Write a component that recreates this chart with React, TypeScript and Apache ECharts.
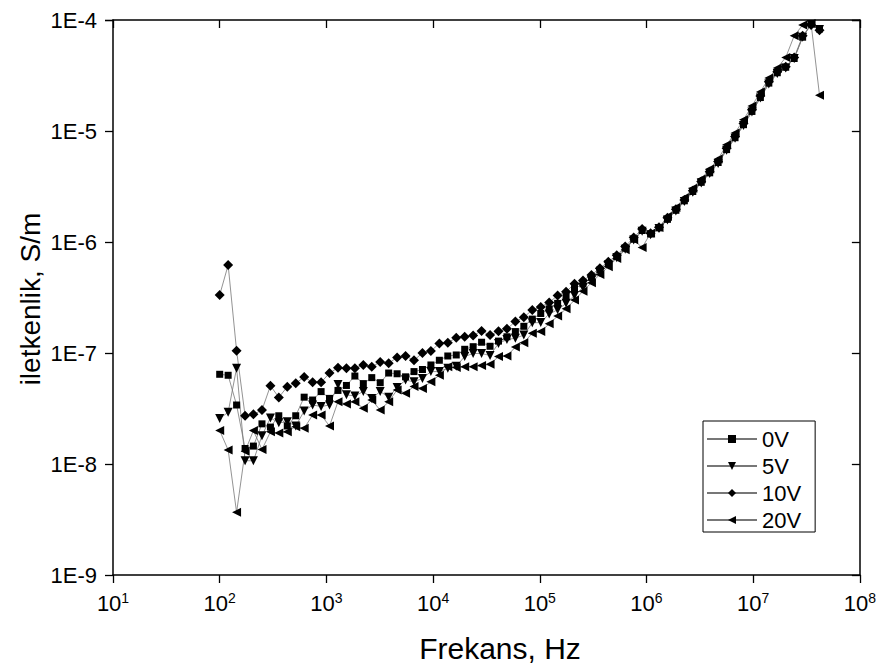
import React, { useEffect, useRef } from "react";
import * as echarts from "echarts";

// Frequencies (Hz)
const FREQ = [
  100, 120, 144, 173, 207, 249, 299, 358, 430, 516, 619, 743, 892, 1070, 1284, 1541, 1849, 2219,
  2662, 3195, 3834, 4601, 5521, 6625, 7950, 9540, 11448, 13737, 16485, 19781, 23738, 28485, 34182,
  41018, 49222, 59067, 70880, 85056, 102067, 122480, 146977, 176372, 211646, 253975, 304770, 365724,
  438869, 526643, 631971, 758366, 910039, 1092047, 1310456, 1572547, 1887057, 2264468, 2717362,
  3260834, 3913001, 4695601, 5634721, 6761665, 8113998, 9736798, 11684157, 14020989, 16825186,
  20190224, 24228268, 29073922, 34888707, 41866448,
];

// Conductivity (S/m)
const V0 = [
  6.43e-8, 6.3e-8, 3.4e-8, 1.38e-8, 1.45e-8, 2.3e-8, 2.15e-8, 2.72e-8, 2.2e-8, 2.72e-8, 4.0e-8, 3.77e-8,
  4.49e-8, 3.9e-8, 4.6e-8, 5.1e-8, 6.2e-8, 5.3e-8, 6.0e-8, 5.4e-8, 6.6e-8, 6.5e-8, 6.1e-8, 6.8e-8,
  7.1e-8, 7.8e-8, 8.6e-8, 9.4e-8, 9.6e-8, 1.08e-7, 1.14e-7, 1.25e-7, 1.15e-7, 1.28e-7, 1.4e-7, 1.56e-7,
  1.74e-7, 2.02e-7, 2.27e-7, 2.5e-7, 2.8e-7, 3.2e-7, 3.8e-7, 4.2e-7, 4.8e-7, 5.6e-7, 6.4e-7, 7.4e-7,
  8.8e-7, 1.06e-6, 1.27e-6, 1.18e-6, 1.34e-6, 1.6e-6, 1.93e-6, 2.35e-6, 2.85e-6, 3.45e-6, 4.2e-6,
  5.2e-6, 6.8e-6, 8.7e-6, 1.14e-5, 1.5e-5, 2.0e-5, 2.7e-5, 3.35e-5, 3.75e-5, 4.5e-5, 7.0e-5, 9.2e-5,
  8.3e-5,
];
const V5 = [
  2.57e-8, 2.92e-8, 7.3e-8, 1.07e-8, 1.07e-8, 1.8e-8, 2.6e-8, 2.35e-8, 2.4e-8, 2.2e-8, 3.0e-8, 3.4e-8,
  3.3e-8, 3.4e-8, 5.2e-8, 4.2e-8, 4.1e-8, 4.5e-8, 3.9e-8, 4.5e-8, 4.0e-8, 4.9e-8, 5.7e-8, 5.5e-8,
  5.9e-8, 6.8e-8, 6.8e-8, 7.3e-8, 7.6e-8, 9.3e-8, 9.9e-8, 9.9e-8, 9.5e-8, 1.22e-7, 1.32e-7, 1.36e-7,
  1.45e-7, 1.87e-7, 1.88e-7, 2.25e-7, 2.45e-7, 2.8e-7, 3.3e-7, 3.9e-7, 4.5e-7, 5.3e-7, 6.2e-7, 7.2e-7,
  8.6e-7, 1.04e-6, 1.25e-6, 1.16e-6, 1.32e-6, 1.58e-6, 1.9e-6, 2.32e-6, 2.8e-6, 3.4e-6, 4.15e-6,
  5.1e-6, 6.7e-6, 8.6e-6, 1.12e-5, 1.48e-5, 1.98e-5, 2.65e-5, 3.3e-5, 3.7e-5, 4.5e-5, 7.0e-5, 9.1e-5,
  8.2e-5,
];
const V10 = [
  3.33e-7, 6.2e-7, 1.05e-7, 2.72e-8, 2.8e-8, 3.06e-8, 5.07e-8, 3.98e-8, 4.97e-8, 5.33e-8, 6.08e-8,
  5.44e-8, 5.44e-8, 6.6e-8, 7.35e-8, 7.3e-8, 7.3e-8, 7.8e-8, 7.5e-8, 8.3e-8, 8.1e-8, 9.1e-8, 9.4e-8,
  8.6e-8, 1.0e-7, 1.04e-7, 1.22e-7, 1.24e-7, 1.37e-7, 1.4e-7, 1.44e-7, 1.58e-7, 1.45e-7, 1.57e-7,
  1.65e-7, 1.92e-7, 2.1e-7, 2.44e-7, 2.6e-7, 2.85e-7, 3.3e-7, 3.56e-7, 4.2e-7, 4.5e-7, 5.05e-7,
  5.8e-7, 6.65e-7, 7.6e-7, 9.1e-7, 1.1e-6, 1.31e-6, 1.2e-6, 1.36e-6, 1.65e-6, 1.97e-6, 2.39e-6,
  2.9e-6, 3.5e-6, 4.3e-6, 5.3e-6, 6.98e-6, 8.9e-6, 1.17e-5, 1.55e-5, 2.07e-5, 2.78e-5, 3.42e-5,
  3.8e-5, 4.6e-5, 7.2e-5, 9.0e-5, 8.1e-5,
];
const V20 = [
  2.0e-8, 1.34e-8, 3.67e-9, 1.3e-8, 2.0e-8, 1.35e-8, 1.95e-8, 1.9e-8, 1.95e-8, 2.17e-8, 2.1e-8,
  2.76e-8, 2.76e-8, 2.2e-8, 3.64e-8, 3.47e-8, 3.64e-8, 3.18e-8, 3.77e-8, 3.06e-8, 3.64e-8, 4.65e-8,
  4.35e-8, 5.0e-8, 4.8e-8, 5.5e-8, 6.3e-8, 7.5e-8, 7.4e-8, 7.5e-8, 7.5e-8, 7.7e-8, 7.9e-8, 9.3e-8,
  9.4e-8, 1.13e-7, 1.24e-7, 1.51e-7, 1.56e-7, 1.83e-7, 2.15e-7, 2.5e-7, 3.0e-7, 3.6e-7, 4.3e-7,
  5.1e-7, 6.0e-7, 7.1e-7, 8.5e-7, 1.05e-6, 8.9e-7, 1.2e-6, 1.35e-6, 1.7e-6, 2.05e-6, 2.5e-6,
  3.05e-6, 3.7e-6, 4.55e-6, 5.6e-6, 7.5e-6, 9.6e-6, 1.26e-5, 1.68e-5, 2.25e-5, 3.0e-5, 3.7e-5,
  4.6e-5, 7.2e-5, 9.0e-5, 9.3e-5, 2.1e-5,
];

const SERIES_NAMES = ["0V", "5V", "10V", "20V"];
const X_MAJOR = [1e1, 1e2, 1e3, 1e4, 1e5, 1e6, 1e7, 1e8];
const Y_MAJOR = [1e-9, 1e-8, 1e-7, 1e-6, 1e-5, 1e-4];

const X_TITLE = "Frekans, Hz";
const Y_TITLE = "iletkenlik, S/m";

const FONT = "'Liberation Sans', Arial, sans-serif";

const X_MIN = 10;
const X_MAX = 1e8;
const Y_MIN = 1e-9;
const Y_MAX = 1e-4;

export default function App() {
  const ref = useRef<HTMLDivElement>(null);

  useEffect(() => {
    if (!ref.current) return;
    const chart = echarts.init(ref.current, null, { renderer: "svg" });

    const axisLine = { show: true, lineStyle: { color: "#000", width: 1.5 } };
    const tickOut = { show: true, inside: false, length: 8, lineStyle: { color: "#000", width: 1.3 } };
    const tickIn = { show: true, inside: true, length: 8, lineStyle: { color: "#000", width: 1.3 } };

    const baseX = {
      type: "log" as const,
      logBase: 10,
      min: X_MIN,
      max: X_MAX,
      gridIndex: 0,
      splitLine: { show: false },
    };
    const baseY = {
      type: "log" as const,
      logBase: 10,
      min: Y_MIN,
      max: Y_MAX,
      gridIndex: 0,
      splitLine: { show: false },
    };

    const xAxes = [
      {
        ...baseX,
        position: "bottom",
        axisLine,
        axisTick: tickOut,
        axisLabel: {
          show: true,
          customValues: X_MAJOR,
          margin: 16,
          color: "#000",
          fontFamily: FONT,
          formatter: (v: number) => `{b|10}{s|${Math.round(Math.log10(v))}}`,
          rich: {
            b: { fontSize: 22, fontFamily: FONT, color: "#000" },
            s: { fontSize: 14, fontFamily: FONT, color: "#000", verticalAlign: "top", padding: [0, 0, 10, 0] },
          },
        },
      },
      { ...baseX, position: "top", axisLine, axisTick: tickIn, axisLabel: { show: false } },
    ];

    const yAxes = [
      {
        ...baseY,
        position: "left",
        axisLine,
        axisTick: tickOut,
        axisLabel: {
          show: true,
          customValues: Y_MAJOR,
          margin: 16,
          color: "#000",
          fontSize: 22,
          fontFamily: FONT,
          formatter: (v: number) => `1E${Math.round(Math.log10(v))}`,
        },
      },
      { ...baseY, position: "right", axisLine, axisTick: tickIn, axisLabel: { show: false } },
    ];

    const values = [V0, V5, V10, V20];
    const symbols = ["rect", "triangle", "diamond", "triangle"];
    const rotates = [0, 180, 0, 90];
    const sizes = [7, 9, 10, 9];

    const series: any[] = SERIES_NAMES.map((name, k) => ({
      name,
      type: "line",
      xAxisIndex: 0,
      yAxisIndex: 0,
      data: FREQ.map((f, i) => [f, values[k][i]]),
      symbol: symbols[k],
      symbolRotate: rotates[k],
      symbolSize: sizes[k],
      showAllSymbol: true,
      itemStyle: { color: "#000" },
      lineStyle: { color: "#777", width: 0.8 },
      emphasis: { disabled: true },
    }));

    chart.setOption({
      animation: false,
      backgroundColor: "#fff",
      textStyle: { fontFamily: FONT },
      grid: { left: 113, right: 17, top: 20, bottom: 92 },
      xAxis: xAxes,
      yAxis: yAxes,
      legend: {
        orient: "vertical",
        left: 703,
        top: 421,
        itemWidth: 50,
        itemHeight: 10,
        itemGap: 5,
        padding: [7, 14, 1, 3],
        borderColor: "#000",
        borderWidth: 1,
        borderRadius: 0,
        backgroundColor: "#fff",
        textStyle: { fontSize: 22, lineHeight: 22, color: "#000", fontFamily: FONT },
        data: SERIES_NAMES,
      },
      graphic: [
        {
          type: "text",
          x: 500,
          y: 648,
          style: {
            text: X_TITLE,
            font: `30px ${FONT}`,
            fill: "#000",
            align: "center",
            verticalAlign: "middle",
          },
        },
        {
          type: "text",
          x: 30,
          y: 299,
          rotation: Math.PI / 2,
          style: {
            text: Y_TITLE,
            font: `28px ${FONT}`,
            fill: "#000",
            align: "center",
            verticalAlign: "middle",
          },
        },
      ],
      series,
    });

    return () => chart.dispose();
  }, []);

  return (
    <div
      ref={ref}
      style={{ position: "absolute", left: 0, top: 0, width: 879, height: 667 }}
    />
  );
}
